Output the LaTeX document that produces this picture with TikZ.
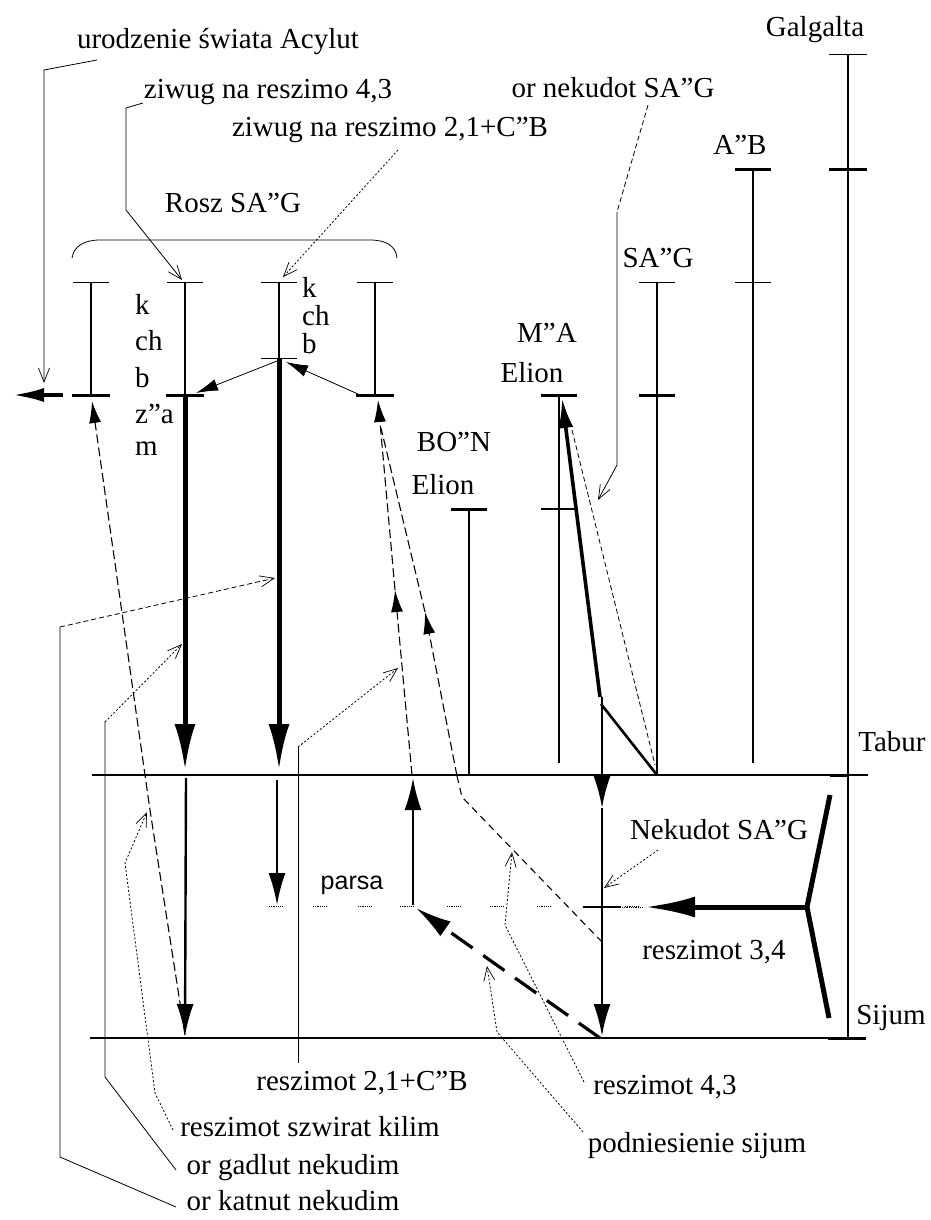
\documentclass[tikz,border=0pt]{standalone}
\usepackage{fontspec}
\setmainfont{Liberation Serif}
\newfontfamily\parsafont{Liberation Sans}
\usetikzlibrary{arrows.meta}
\begin{document}
\begin{tikzpicture}[x=1pt,y=-1pt,
  lbl/.style={inner sep=0pt, font=\fontsize{29}{32}\selectfont},
  col/.style={inner sep=0pt, anchor=base west, font=\fontsize{29}{32}\selectfont},
  bar/.style={line width=2.6pt},
  heavy/.style={line width=5pt},
  mid/.style={line width=2.4pt},
  tthin/.style={line width=1pt},
  tthick/.style={line width=3pt},
  axis/.style={line width=1.1pt},
  lead/.style={line width=0.8pt},
  leaddash/.style={line width=0.8pt, dash pattern=on 5pt off 3pt},
  leaddot/.style={line width=0.8pt, dash pattern=on 2pt off 2pt},
  dline/.style={line width=1.1pt, dash pattern=on 9pt off 4pt},
  openarr/.style={-{Straight Barb[length=14pt,width=11pt,line width=0.7pt]}},
  bigtip/.style={-{Latex[length=46pt,width=21pt]}},
  midtip/.style={-{Latex[length=32pt,width=17pt]}},
  smalltip/.style={-{Latex[length=22pt,width=12pt]}},
]
\useasboundingbox (0,0) rectangle (930,1220);

% ---------- horizontal axes ----------
\coordinate (tabL) at (92,775);  \coordinate (tabR) at (868,775);
\coordinate (sijL) at (90,1038); \coordinate (sijR) at (866,1038);
\draw[axis] (tabL) -- (tabR);
\draw[axis] (sijL) -- (sijR);

% ---------- Galgalta ----------
\coordinate (g0) at (848,55); \coordinate (g1) at (848,169);
\coordinate (g2) at (848,775); \coordinate (g3) at (848,1038);
\draw[bar] (g0) -- (g3);
\draw[tthin] (g0) ++(-19,0) -- ++(38,0);
\draw[tthick] (g1) ++(-19,0) -- ++(38,0);
\draw[tthick] (g2) ++(-18,0) -- ++(18,0);
\draw[tthick] (g3) ++(-20,0) -- ++(38,0);
\node[lbl] (galg) at (815,30) {Galgalta};

% ---------- A"B ----------
\coordinate (ab0) at (753,169); \coordinate (ab1) at (753,282); \coordinate (ab2) at (753,763);
\draw[bar] (ab0) -- (ab2);
\draw[tthick] (ab0) ++(-18,0) -- ++(36,0);
\draw[tthin] (ab1) ++(-18,0) -- ++(36,0);
\node[lbl] (ablbl) at (740,145) {A”B};

% ---------- SA"G ----------
\coordinate (sg0) at (657,282); \coordinate (sg1) at (657,395); \coordinate (sg2) at (657,775);
\draw[bar] (sg0) -- (sg2);
\draw[tthin] (sg0) ++(-18,0) -- ++(36,0);
\draw[tthick] (sg1) ++(-18,0) -- ++(36,0);
\node[lbl] (sglbl) at (658,258) {SA”G};

% ---------- M"A Elion ----------
\coordinate (ma0) at (559,395); \coordinate (ma1) at (559,509); \coordinate (ma2) at (559,763);
\draw[bar] (ma0) -- (ma2);
\draw[tthick] (ma0) ++(-18,0) -- ++(36,0);
\draw[mid] (ma1) ++(-18,0) -- ++(36,0);
\node[lbl] (malbl) at (547,333) {M”A};
\node[lbl] (maelion) at (532,373) {Elion};

% ---------- BO"N Elion ----------
\coordinate (bn0) at (469,509); \coordinate (bn1) at (469,775);
\draw[bar] (bn0) -- (bn1);
\draw[tthick] (bn0) ++(-18,0) -- ++(36,0);
\node[lbl] (bnlbl) at (454,442) {BO”N};
\node[lbl] (bnelion) at (443,485) {Elion};

% ---------- Rosz SA"G group ----------
\coordinate (b1t) at (91,282);  \coordinate (b1m) at (91,395);
\coordinate (b2t) at (185,282); \coordinate (b2m) at (185,395); \coordinate (b2e) at (185,770);
\coordinate (b3t) at (279,282); \coordinate (b3m) at (279,358); \coordinate (b3e) at (279,770);
\coordinate (b4t) at (375,282); \coordinate (b4m) at (375,395);
\draw[bar] (b1t) -- (b1m);
\draw[bar] (b2t) -- (b2m);
\draw[bar] (b3t) -- (b3m);
\draw[bar] (b4t) -- (b4m);
\foreach \c in {b1t,b2t,b3t,b4t,b3m}{\draw[tthin] (\c) ++(-18,0) -- ++(36,0);}
\foreach \c in {b1m,b2m,b4m}{\draw[tthick] (\c) ++(-19,0) -- ++(38,0);}
\draw[heavy,bigtip] (b2m) -- (b2e);
\draw[heavy,bigtip] (b3m) -- (b3e);

% brace
\coordinate (brL) at (72,258); \coordinate (brR) at (397,258);
\coordinate (brL2) at (100,240); \coordinate (brR2) at (370,240);
\draw[lead] (brL) .. controls (74,246) and (84,240) .. (brL2) -- (brR2) .. controls (386,240) and (396,246) .. (brR);
\node[lbl] (rosz) at (233,203) {Rosz SA”G};

% letters columns
\node[col] (k1) at (135,314) {k};
\node[col] (ch1) at (135,350) {ch};
\node[col] (bb1) at (135,387) {b};
\node[col] (za1) at (135,423) {z”a};
\node[col] (m1) at (135,455) {m};
\node[col] (k2) at (302,297) {k};
\node[col] (ch2) at (302,325) {ch};
\node[col] (bb2) at (302,353) {b};

% arrows between bars
\coordinate (a23s) at (277,361); \coordinate (a23e) at (196,393);
\draw[lead,smalltip] (a23s) -- (a23e);
\coordinate (a43s) at (358,394); \coordinate (a43e) at (286,362);
\draw[lead,smalltip] (a43s) -- (a43e);
\coordinate (lefts) at (63,395); \coordinate (lefte) at (12,395);
\draw[line width=4pt,-{Latex[length=32pt,width=14pt]}] (lefts) -- (lefte);

% below Tabur continuations
\coordinate (b2u) at (186,778); \coordinate (b2d) at (185,1036);
\draw[mid,midtip] (b2u) -- (b2d);
\coordinate (b3u) at (277,780); \coordinate (b3d) at (277,905);
\draw[mid,midtip] (b3u) -- (b3d);

% ---------- parsa ----------
\node[inner sep=0pt, font=\parsafont\fontsize{25}{28}\selectfont] (parsa) at (352,885) {parsa};
\foreach \xx in {276,320,365,407,454,497,544,632}{\draw[line width=0.8pt, densely dotted] (\xx-7,906) -- (\xx+7,906);}
\coordinate (pu0) at (413,905); \coordinate (pu1) at (413,778);
\draw[mid,midtip] (pu0) -- (pu1);

% thick dashed raising of Sijum
\coordinate (pd0) at (600,1038); \coordinate (pd1) at (416,908);
\draw[line width=3.2pt, dash pattern=on 26pt off 13pt, -{Latex[length=36pt,width=18pt]}] (pd0) -- (pd1);

% ---------- M"A heavy path & x=600 column ----------
\coordinate (mk) at (600,697); \coordinate (mt) at (562,398);
\draw[line width=3.6pt, -{Latex[length=30pt,width=15pt]}] (mk) -- (mt);
\coordinate (mk2) at (601,704);
\draw[line width=2.6pt] (mk2) -- (sg2);
\coordinate (v0) at (602,697); \coordinate (v1) at (602,808); \coordinate (v2) at (602,1036);
\draw[mid,midtip] (v0) -- (v1);
\draw[mid,midtip] (v1) -- (v2);
\coordinate (ds0) at (572,430); \coordinate (ds1) at (655,765);
\draw[leaddash] (ds0) -- (ds1);

% Nekudot SA"G tick and arrow
\coordinate (nk) at (602,907);
\draw[mid] (nk) ++(-19,0) -- ++(38,0);
\coordinate (yj) at (807,907); \coordinate (ya) at (645,907);
\coordinate (yt) at (830,795); \coordinate (yb) at (829,1018);
\draw[heavy,-{Latex[length=50pt,width=21pt]}] (yj) -- (ya);
\draw[line width=0.8pt, densely dotted] (622,907) -- (643,907);
\draw[heavy, line join=miter] (yt) -- (yj) -- (yb);
\node[lbl] (reszi34) at (714,952) {reszimot 3,4};
\node[lbl] (neksag) at (719,830) {Nekudot SA”G};
\coordinate (nl0) at (658,850); \coordinate (nl1) at (604,888);
\draw[leaddot,openarr] (nl0) -- (nl1);

% ---------- dashed paths ----------
% szwirat kilim path
\coordinate (l1a) at (185,1035); \coordinate (l1b) at (150,810);
\coordinate (l1c) at (145,775); \coordinate (l1d) at (92,401);
\draw[dline,smalltip] (l1a) -- (l1b) -- (l1c) -- (l1d);
% reszimot 2,1 path
\coordinate (l2a) at (412,775); \coordinate (l2b) at (395,590); \coordinate (l2c) at (378,400);
\draw[dline,smalltip] (l2a) -- (l2b);
\draw[dline,smalltip] (l2b) -- (l2c);
% reszimot 4,3 path
\coordinate (l3a) at (602,942); \coordinate (l3b) at (462,797);
\coordinate (l3c) at (457,776); \coordinate (l3d) at (425,612); \coordinate (l3e) at (381,428);
\draw[dline, dash pattern=on 7pt off 5pt] (l3a) -- (l3b) -- (l3c);
\draw[dline,smalltip] (l3c) -- (l3d);
\draw[dline] (l3d) -- (l3e);

% ---------- labels and leaders ----------
\node[lbl] (uro) at (218,42) {urodzenie świata Acylut};
\coordinate (u1) at (97,60); \coordinate (u2) at (44,70); \coordinate (u3) at (44,383);
\draw[lead,openarr] (u1) -- (u2) -- (u3);

\node[lbl] (ziw43) at (268,92) {ziwug na reszimo 4,3};
\coordinate (z1) at (143,103); \coordinate (z2) at (126,108); \coordinate (z3) at (126,210); \coordinate (z4) at (182,280);
\draw[lead,openarr] (z1) -- (z2) -- (z3) -- (z4);

\node[lbl] (ziw21) at (390,130) {ziwug na reszimo 2,1+C”B};
\coordinate (zz1) at (398,150); \coordinate (zz2) at (283,277);
\draw[leaddot,openarr] (zz1) -- (zz2);

\node[lbl] (ornek) at (613,88) {or nekudot SA”G};
\coordinate (o1) at (648,105); \coordinate (o2) at (617,212); \coordinate (o3) at (617,465); \coordinate (o4) at (598,500);
\draw[leaddash] (o1) -- (o2);
\draw[lead,openarr] (o2) -- (o3) -- (o4);

\node[lbl] (tabur) at (892,742) {Tabur};
\node[lbl] (sijum) at (891,1018) {Sijum};

\node[lbl] (r21) at (362,1083) {reszimot 2,1+C”B};
\coordinate (r1) at (298,1063); \coordinate (r2) at (298,747); \coordinate (r3) at (398,668);
\draw[lead] (r1) -- (r2);
\draw[leaddot,openarr] (r2) -- (r3);

\node[lbl] (r43) at (665,1087) {reszimot 4,3};
\coordinate (q1) at (584,1082); \coordinate (q2) at (505,925); \coordinate (q3) at (512,852);
\draw[leaddot,openarr] (q1) -- (q2) -- (q3);

\node[lbl] (pod) at (697,1146) {podniesienie sijum};
\coordinate (p1) at (583,1132); \coordinate (p2) at (497,1032); \coordinate (p3) at (487,966);
\draw[leaddot,openarr] (p1) -- (p2) -- (p3);

\node[lbl] (szw) at (310,1127) {reszimot szwirat kilim};
\coordinate (s1) at (173,1130); \coordinate (s2) at (155,1093); \coordinate (s3) at (125,863); \coordinate (s4) at (147,812);
\draw[leaddot,openarr] (s1) -- (s2) -- (s3) -- (s4);

\node[lbl] (gad) at (293,1168) {or gadlut nekudim};
\coordinate (gd1) at (176,1170); \coordinate (gd2) at (105,1077); \coordinate (gd3) at (105,722); \coordinate (gd4) at (182,644);
\draw[lead] (gd1) -- (gd2) -- (gd3);
\draw[leaddot,openarr] (gd3) -- (gd4);

\node[lbl] (kat) at (293,1201) {or katnut nekudim};
\coordinate (kt1) at (176,1207); \coordinate (kt2) at (60,1157); \coordinate (kt3) at (60,627); \coordinate (kt4) at (275,578);
\draw[lead] (kt1) -- (kt2) -- (kt3);
\draw[leaddash,openarr] (kt3) -- (kt4);
\end{tikzpicture}
\end{document}
